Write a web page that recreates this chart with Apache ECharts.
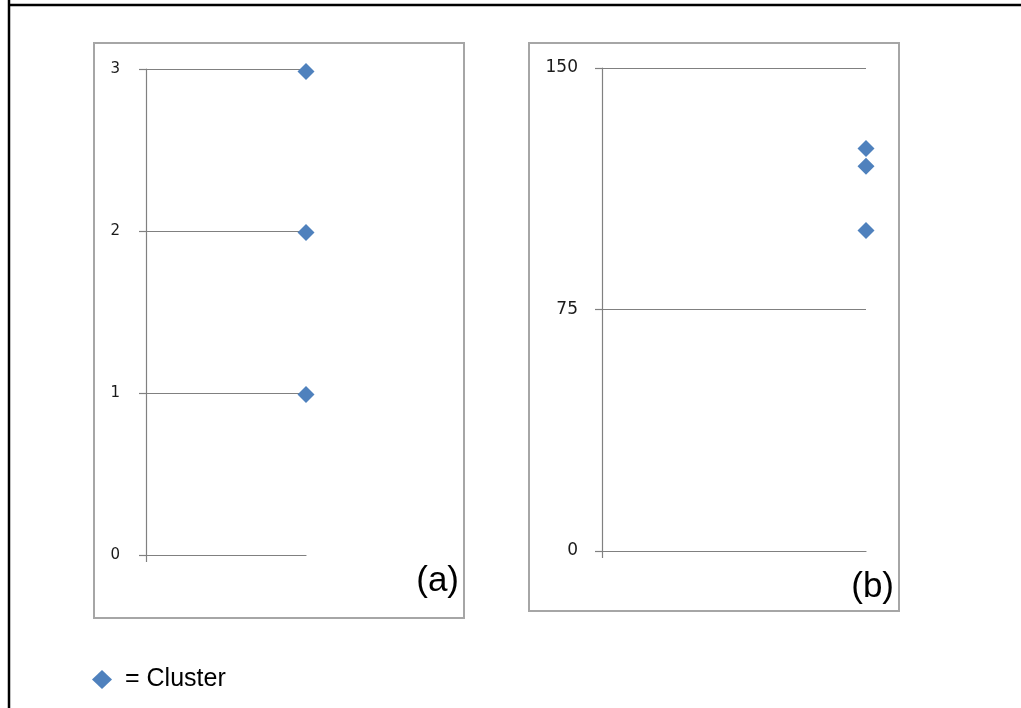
<!DOCTYPE html>
<html>
<head>
<meta charset="utf-8">
<script src="https://cdn.jsdelivr.net/npm/echarts@6/dist/echarts.min.js"></script>
<style>html,body{margin:0;padding:0;background:#fff}#c{width:1021px;height:708px}</style>
</head>
<body>
<div id="c"></div>
<script>
const seriesName = 'Cluster';
const xPosition = [1, 1, 1];
const clusterA = [2.985, 1.99, 0.99];
const clusterB = [125, 119.5, 99.5];
const ticksA = { min: 0, max: 3, interval: 1 };
const ticksB = { min: 0, max: 150, interval: 75 };
const panelLabels = ['(a)', '(b)'];

const gray = '#808080';
const blue = '#4F81BD';

function yAx(gi, t, margin, fs) {
  return {
    type: 'value', gridIndex: gi, min: t.min, max: t.max, interval: t.interval,
    axisLine: { show: true, lineStyle: { color: gray, width: 1.2 } },
    axisTick: { show: true, length: 7, lineStyle: { color: gray, width: 1.2 } },
    splitLine: { show: true, lineStyle: { color: gray, width: 1.2 } },
    axisLabel: { margin: margin, color: '#1a1a1a', fontFamily: 'DejaVu Sans', fontSize: fs, padding: [5, 0, 0, 0] }
  };
}
function xAx(gi) {
  return {
    type: 'value', gridIndex: gi, min: 0, max: 1, interval: 1,
    axisLine: { show: true, onZero: false, lineStyle: { color: gray, width: 1.2 } },
    axisTick: { show: true, length: 7, customValues: [0], lineStyle: { color: gray, width: 1.2 } },
    splitLine: { show: false },
    axisLabel: { show: false }
  };
}
function pts(ys) { return ys.map((y, i) => [xPosition[i], y]); }

const chart = echarts.init(document.getElementById('c'));
chart.setOption({
  animation: false,
  grid: [
    { left: 146, top: 69, width: 160, height: 486 },
    { left: 602, top: 68, width: 264, height: 483 }
  ],
  xAxis: [xAx(0), xAx(1)],
  yAxis: [yAx(0, ticksA, 26, 15), yAx(1, ticksB, 24, 17)],
  legend: {
    left: 87, top: 662, itemWidth: 20, itemHeight: 19,
    data: [{ name: seriesName, icon: 'diamond' }],
    formatter: '= {name}',
    itemStyle: { opacity: 1 },
    textStyle: { fontFamily: 'Liberation Sans', fontSize: 25, color: '#000', padding: [0, 0, 0, 8] }
  },
  series: [
    { name: seriesName, type: 'scatter', xAxisIndex: 0, yAxisIndex: 0, symbol: 'diamond', symbolSize: 17, clip: false, itemStyle: { color: blue, opacity: 1 }, data: pts(clusterA) },
    { name: seriesName, type: 'scatter', xAxisIndex: 1, yAxisIndex: 1, symbol: 'diamond', symbolSize: 17, clip: false, itemStyle: { color: blue, opacity: 1 }, data: pts(clusterB) }
  ],
  graphic: [
    { type: 'line', shape: { x1: 9, y1: 0, x2: 9, y2: 708 }, style: { stroke: '#000', lineWidth: 2.5 } },
    { type: 'line', shape: { x1: 8, y1: 5, x2: 1021, y2: 5 }, style: { stroke: '#000', lineWidth: 2.5 } },
    { type: 'rect', shape: { x: 94, y: 43, width: 370, height: 575 }, style: { fill: 'none', stroke: '#a6a6a6', lineWidth: 2 } },
    { type: 'rect', shape: { x: 529, y: 43, width: 370, height: 568 }, style: { fill: 'none', stroke: '#a6a6a6', lineWidth: 2 } },
    { type: 'text', x: 459, y: 581, style: { text: panelLabels[0], align: 'right', verticalAlign: 'middle', font: '35px "Liberation Sans"', fill: '#000' } },
    { type: 'text', x: 894, y: 587, style: { text: panelLabels[1], align: 'right', verticalAlign: 'middle', font: '35px "Liberation Sans"', fill: '#000' } }
  ]
});
</script>
</body>
</html>
